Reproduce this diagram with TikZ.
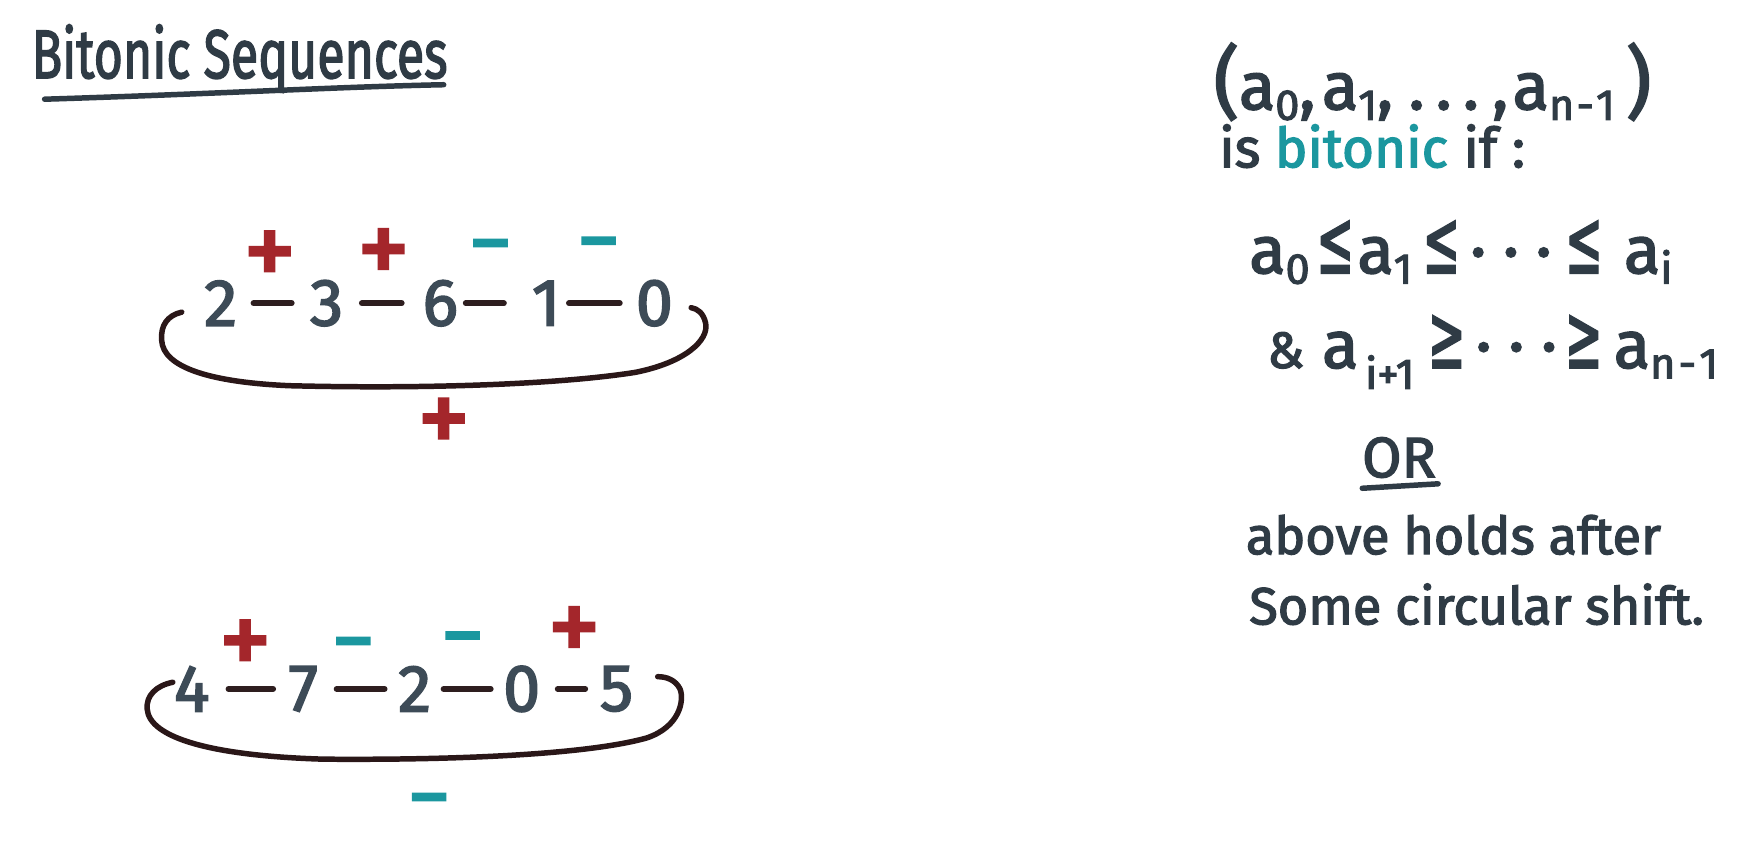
\documentclass[tikz,border=0pt]{standalone}
\usepackage{fontspec}
\usepackage{graphicx}
\setmainfont{Fira Sans}
\newfontfamily\medf{Fira Sans}[FakeBold=2.5]
\newfontfamily\symf{DejaVu Sans}[FakeBold=2]
\usetikzlibrary{calc}
\definecolor{ink}{HTML}{2F3B45}
\definecolor{digitc}{HTML}{3D4B57}
\definecolor{dashc}{HTML}{2E1E1F}
\definecolor{bracec}{HTML}{2A1718}
\definecolor{redc}{HTML}{A4262B}
\definecolor{tealc}{HTML}{1B979F}
\newcommand\lsub[1]{\raisebox{-0.3ex}{\fontsize{11}{11}\selectfont #1}}
\newcommand\dsub[1]{\raisebox{-0.6ex}{\fontsize{11}{11}\selectfont #1}}
\newcommand\myle{\scalebox{0.5}[1]{\symf\fontsize{23}{23}\selectfont ≤}}
\newcommand\myge{\scalebox{0.5}[1]{\symf\fontsize{23}{23}\selectfont ≥}}
\newcommand\px[1]{\hspace{#1\dimexpr 0.2845pt\relax}}
\newcommand\mydots{\px{9}·\px{15}·\px{15}·}
\begin{document}
\begin{tikzpicture}[x=0.01cm,y=-0.01cm,
  digit/.style={text=digitc, font=\medf\fontsize{17}{17}\selectfont, inner sep=0pt, anchor=center},
  link/.style={draw=dashc, line width=1.5pt, line cap=round},
  pl/.style={text=redc, font=\medf\fontsize{27}{27}\selectfont, inner sep=0pt, anchor=center, yshift=-1.2pt},
  mi/.style={text=tealc, font=\medf\fontsize{22}{22}\selectfont, inner sep=0pt, anchor=center, yshift=-3.8pt},
  brace/.style={draw=bracec, line width=1.4pt, line cap=round, line join=round},
  txt/.style={text=ink, anchor=base west, inner sep=0pt, font=\medf\fontsize{13.3}{14}\selectfont},
  txtbig/.style={text=ink, anchor=base west, inner sep=0pt, font=\medf\fontsize{17}{17}\selectfont},
  uline/.style={draw=ink, line width=1.4pt, line cap=round}]
\useasboundingbox (0,0) rectangle (1568,770);
\fill[white] (0,0) rectangle (1568,770);

% title
\node[txtbig, font=\medf\fontsize{17.5}{17.5}\selectfont, xscale=0.73, transform shape] (title) at (28,70) {Bitonic Sequences};
\draw[uline] (40,89) .. controls (200,84) and (300,78) .. (398,76);

% sequence 1
\node[digit] (a1) at (198,272) {2};
\node[digit] (a2) at (293,272) {3};
\node[digit] (a3) at (395,272) {6};
\node[digit] (a4) at (490,272) {1};
\node[digit] (a5) at (587,272) {0};
\draw[link] ($(a1)!0.31!(a2)$) -- ($(a1)!0.67!(a2)$);
\draw[link] ($(a2)!0.31!(a3)$) -- ($(a2)!0.66!(a3)$);
\draw[link] ($(a3)!0.24!(a4)$) -- ($(a3)!0.60!(a4)$);
\draw[link] ($(a4)!0.21!(a5)$) -- ($(a4)!0.68!(a5)$);
\node[pl] (p1) at (242,228) {+};
\node[pl] (p2) at (344,226) {+};
\node[mi] (m1) at (440,216) {−};
\node[mi] (m2) at (537,214) {−};
\draw[brace] (163,280) .. controls (150,283) and (144,292) .. (145,305)
  .. controls (146,330) and (190,343) .. (260,346)
  .. controls (380,349) and (500,345) .. (570,334)
  .. controls (615,325) and (636,305) .. (633,290)
  .. controls (631,281) and (626,277) .. (620,276);
\node[pl] (p3) at (398,378) {+};

% sequence 2
\node[digit] (b1) at (172,618) {4};
\node[digit] (b2) at (272,618) {7};
\node[digit] (b3) at (372,618) {2};
\node[digit] (b4) at (468,618) {0};
\node[digit] (b5) at (553,618) {5};
\draw[link] ($(b1)!0.33!(b2)$) -- ($(b1)!0.73!(b2)$);
\draw[link] ($(b2)!0.30!(b3)$) -- ($(b2)!0.73!(b3)$);
\draw[link] ($(b3)!0.27!(b4)$) -- ($(b3)!0.71!(b4)$);
\draw[link] ($(b4)!0.38!(b5)$) -- ($(b4)!0.67!(b5)$);
\node[pl] (q1) at (220,577) {+};
\node[mi] (n1) at (317,573) {−};
\node[mi] (n2) at (415,568) {−};
\node[pl] (q2) at (515,565) {+};
\draw[brace] (155,612) .. controls (140,615) and (131,624) .. (132,636)
  .. controls (134,662) and (190,678) .. (290,681)
  .. controls (420,682) and (530,676) .. (580,662)
  .. controls (610,652) and (614,628) .. (610,618)
  .. controls (606,610) and (598,607) .. (590,607);
\node[mi] (n3) at (385,713) {−};

% definition
\node[txtbig] (d1) at (1088,98) {{\fontsize{20}{20}\selectfont(}a\lsub{0},\px{6}a\lsub{1},\px{14}.\px{10}.\px{10}.\px{12},\px{4}a\lsub{n\px{2}-\px{2}1}\px{10}{\fontsize{20}{20}\selectfont)}};
\node[txt, font=\medf\fontsize{14}{14}\selectfont] (d2) at (1093,150) {is \textcolor{tealc}{bitonic}\px{14}if :};
\node[txtbig] (d3) at (1120,245) {a\lsub{0}\px{6}\myle\px{3}a\lsub{1}\px{9}\myle\mydots\px{12}\myle\px{19}a\lsub{i}};
\node[txtbig] (d4) at (1136,330) {{\fontsize{13}{13}\selectfont\&}\px{16}a\px{6}\dsub{i+1}\px{12}\myge\mydots\px{7}\myge\px{10}a\lsub{n\px{3}-\px{3}1}};
\node[txt, anchor=base, font=\medf\fontsize{14.5}{15}\selectfont] (or) at (1255,428) {OR};
\draw[uline] (1222,438) -- (1290,434);
\node[txt] (d5) at (1117,497) {above holds after};
\node[txt] (d6) at (1120,560) {Some circular shift.};
\end{tikzpicture}
\end{document}
